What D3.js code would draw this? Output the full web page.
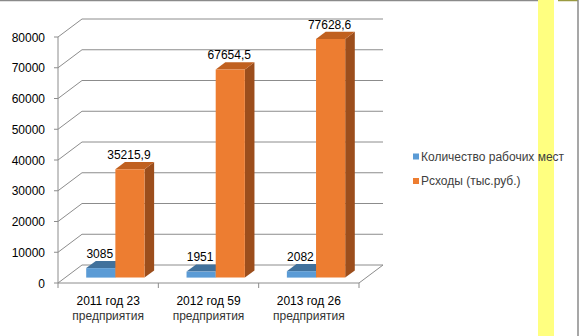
<!DOCTYPE html>
<html><head><meta charset="utf-8">
<script src="https://cdn.jsdelivr.net/npm/d3@7"></script>
<style>html,body{margin:0;padding:0;background:#fff;}svg{display:block;}</style>
</head><body>
<script>
const categories = ["2011 год 23|предприятия", "2012 год 59|предприятия", "2013 год 26|предприятия"];
const seriesNames = ["Количество рабочих мест", "Рсходы (тыс.руб.)"];
const jobs = [3085, 1951, 2082];
const costs = [35215.9, 67654.5, 77628.6];
const costLabels = ["35215,9", "67654,5", "77628,6"];
const jobLabels = ["3085", "1951", "2082"];
const yTicks = [0, 10000, 20000, 30000, 40000, 50000, 60000, 70000, 80000];

const W = 579, H = 336;
const svg = d3.select("body").append("svg").attr("width", W).attr("height", H);
const font = "'Liberation Sans', Arial, sans-serif";

// frame decorations
svg.append("rect").attr("x", 538).attr("y", 0).attr("width", 16).attr("height", H).attr("fill", "#ffff80");
svg.append("line").attr("x1", 0).attr("x2", 538).attr("y1", 0.5).attr("y2", 0.5).attr("stroke", "#8a8a8a").attr("stroke-width", 1.5);
svg.append("line").attr("x1", 558).attr("x2", 578).attr("y1", 0.5).attr("y2", 0.5).attr("stroke", "#9a9a40").attr("stroke-width", 1.5);
svg.append("line").attr("x1", 578).attr("x2", 578).attr("y1", 0).attr("y2", H).attr("stroke", "#8a8a8a").attr("stroke-width", 1.5);

// 3D projection
const DX = 24, DY = -18;
const x = d3.scaleBand().domain(categories).range([58, 359]).paddingInner(0).paddingOuter(0);
const y = d3.scaleLinear().domain([0, 80000]).range([283, 37]);
const P = (px, py, d) => [px + d * DX, py + d * DY];

const grid = svg.append("g").attr("stroke", "#8c8c8c").attr("stroke-width", 1).attr("fill", "none");
const x0 = x.range()[0], x1 = x.range()[1];
yTicks.forEach(t => {
  const f = P(x0, y(t), 0), b = P(x0, y(t), 1), br = P(x1, y(t), 1);
  grid.append("line").attr("x1", f[0]).attr("y1", f[1]).attr("x2", b[0]).attr("y2", b[1]);
  grid.append("line").attr("x1", b[0]).attr("y1", b[1]).attr("x2", br[0]).attr("y2", br[1]);
  grid.append("line").attr("x1", f[0] - 4).attr("y1", f[1]).attr("x2", f[0]).attr("y2", f[1]);
});
// front axis & floor
grid.append("line").attr("x1", x0).attr("y1", y(80000)).attr("x2", x0).attr("y2", y(0));
grid.append("line").attr("x1", x0).attr("y1", y(0)).attr("x2", x1).attr("y2", y(0));
{
  const fr = P(x1, y(0), 0), br = P(x1, y(0), 1);
  grid.append("line").attr("x1", fr[0]).attr("y1", fr[1]).attr("x2", br[0]).attr("y2", br[1]);
}
categories.forEach((c, i) => {
  grid.append("line").attr("x1", x(c)).attr("x2", x(c)).attr("y1", y(0)).attr("y2", y(0) + 5);
});
grid.append("line").attr("x1", x1).attr("x2", x1).attr("y1", y(0)).attr("y2", y(0) + 5);

// y tick labels
svg.append("g").selectAll("text").data(yTicks).join("text")
  .attr("x", 45).attr("y", d => y(d) + 4.5).attr("text-anchor", "end")
  .attr("font-family", font).attr("font-size", 12).attr("fill", "#000").text(d => d);

// category labels
categories.forEach(c => {
  const parts = c.split("|");
  const t = svg.append("text").attr("font-family", font).attr("font-size", 12).attr("fill", "#000").attr("text-anchor", "middle");
  t.append("tspan").attr("x", x(c) + x.bandwidth() / 2).attr("y", 305).text(parts[0]);
  t.append("tspan").attr("x", x(c) + x.bandwidth() / 2).attr("y", 320).attr("fill", "#333").text(parts[1]);
});

// bars
const sub = d3.scaleBand().domain([0, 1]).range([0, x.bandwidth()]).paddingInner(0).paddingOuter(0.72);
const dFront = 0.3, dBack = 0.7;
const colors = [
  { front: "#5b9bd5", top: "#41719c", side: "#3a6a94" },
  { front: "#ed7d31", top: "#c0601f", side: "#9c4e1c" }
];
const series = [jobs, costs];
const labels = [jobLabels, costLabels];
const bars = svg.append("g");
categories.forEach((c, i) => {
  [0, 1].forEach(s => {
    const v = series[s][i];
    const bx = x(c) + sub(s), bw = sub.bandwidth();
    const yt = y(v), yb = y(0);
    const col = colors[s];
    const fTL = P(bx, yt, dFront), fTR = P(bx + bw, yt, dFront), fBR = P(bx + bw, yb, dFront), fBL = P(bx, yb, dFront);
    const bTL = P(bx, yt, dBack), bTR = P(bx + bw, yt, dBack), bBR = P(bx + bw, yb, dBack);
    const poly = pts => pts.map(p => p.join(",")).join(" ");
    bars.append("polygon").attr("points", poly([fTR, bTR, bBR, fBR])).attr("fill", col.side);
    bars.append("polygon").attr("points", poly([fTL, bTL, bTR, fTR])).attr("fill", col.top);
    bars.append("polygon").attr("points", poly([fTL, fTR, fBR, fBL])).attr("fill", col.front);
    svg.append("text").attr("x", (fTL[0] + fTR[0]) / 2 - 1).attr("y", bTL[1] - 3)
      .attr("text-anchor", "middle").attr("font-family", font).attr("font-size", 12).attr("fill", "#000")
      .text(labels[s][i]);
  });
});

// legend
const legend = svg.append("g");
seriesNames.forEach((n, i) => {
  const ly = 156.5 + i * 24.5;
  legend.append("rect").attr("x", 413).attr("y", ly - 3).attr("width", 6).attr("height", 6).attr("fill", colors[i].front);
  legend.append("text").attr("x", 421).attr("y", ly + 4).attr("font-family", font).attr("font-size", 12)
    .attr("fill", "#404040").text(n);
});
</script>
</body></html>
